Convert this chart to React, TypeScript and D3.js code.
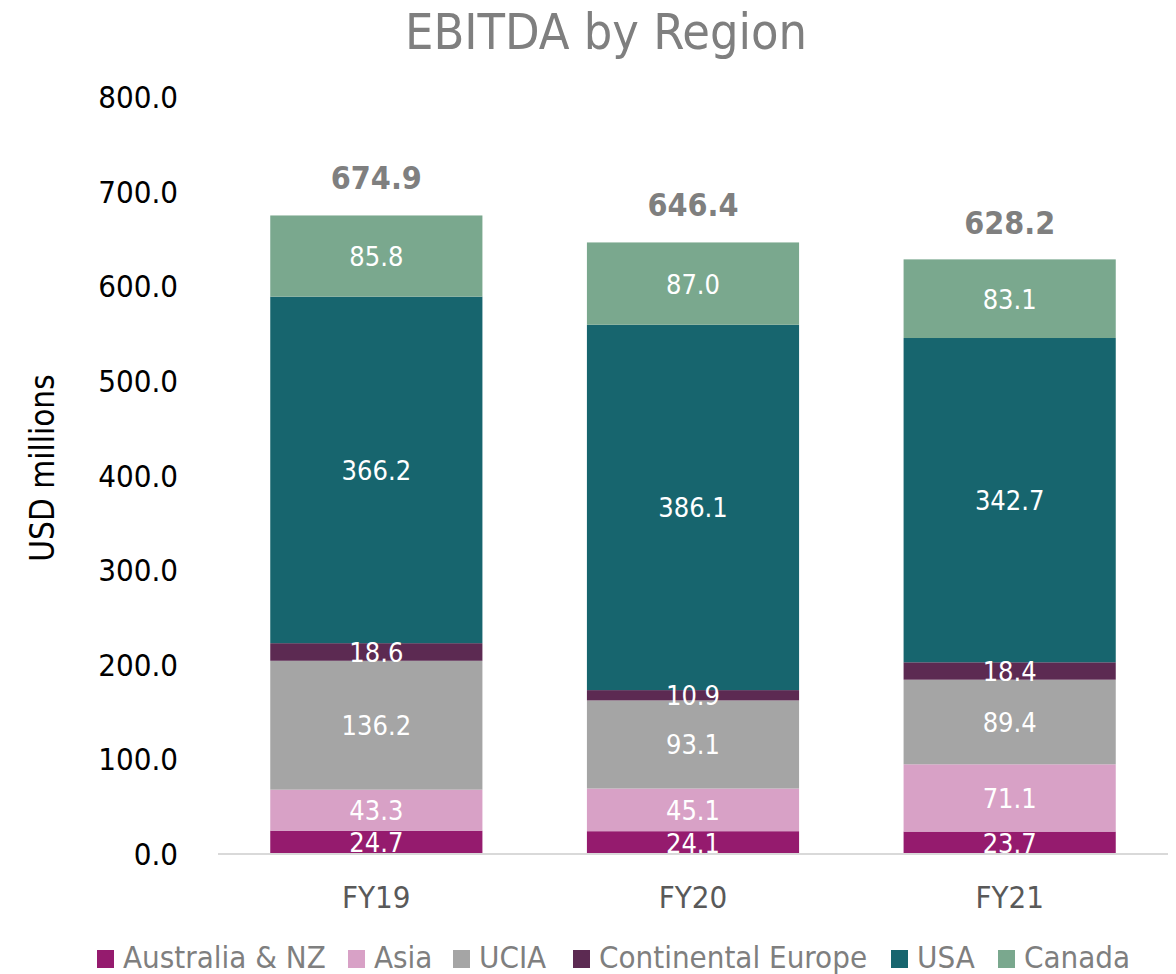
import React from "react";
import * as d3 from "d3";

const categories = ["FY19", "FY20", "FY21"];
const seriesNames = ["Australia & NZ", "Asia", "UCIA", "Continental Europe", "USA", "Canada"];
const australiaNZ = [24.7, 24.1, 23.7];
const asia = [43.3, 45.1, 71.1];
const ucia = [136.2, 93.1, 89.4];
const contEurope = [18.6, 10.9, 18.4];
const usa = [366.2, 386.1, 342.7];
const canada = [85.8, 87.0, 83.1];
const totals = [674.9, 646.4, 628.2];
const yTicks = [0, 100, 200, 300, 400, 500, 600, 700, 800];
const colors = ["#951B6E", "#D8A1C6", "#A5A5A5", "#5C2A52", "#17656E", "#7AA88E"];

const W = 1176;
const H = 974;
const FONT = "'DejaVu Sans Condensed', 'DejaVu Sans', sans-serif";

export default function App() {
  const series = [australiaNZ, asia, ucia, contEurope, usa, canada];
  const rows = categories.map((c, i) => {
    const r: any = { cat: c };
    seriesNames.forEach((s, j) => (r[s] = series[j][i]));
    return r;
  });
  const stack = d3.stack<any>().keys(seriesNames)(rows);
  const x = d3.scaleBand().domain(categories).range([218, 1168]).paddingInner(0.33).paddingOuter(0.165);
  const y = d3.scaleLinear().domain([0, 800]).range([854, 97]);

  const legendY = 968;
  const legendStarts = [97, 348, 453, 573, 891, 998];

  return (
    <svg width={W} height={H} style={{ position: "absolute", left: 0, top: 0, fontFamily: FONT }}>
      <rect width={W} height={H} fill="#fff" />
      <text x={606} y={49} textAnchor="middle" fontSize={50} fill="#7F7F7F">EBITDA by Region</text>
      <text transform={`translate(54,468) rotate(-90)`} textAnchor="middle" fontSize={33} fill="#000">USD millions</text>
      {yTicks.map((t) => (
        <text key={t} x={178} y={y(t) + 11} textAnchor="end" fontSize={31} fill="#000">
          {t.toFixed(1)}
        </text>
      ))}
      {stack.map((layer, j) => (
        <g key={layer.key}>
          {layer.map((d, i) => (
            <rect key={i} x={x(categories[i])} y={y(d[1])} width={x.bandwidth()} height={y(d[0]) - y(d[1])} fill={colors[j]} />
          ))}
        </g>
      ))}
      <line x1={218} x2={1168} y1={854} y2={854} stroke="#D9D9D9" strokeWidth={2} />
      {stack.map((layer, j) => (
        <g key={layer.key + "l"}>
          {layer.map((d, i) => (
            <text key={i} x={x(categories[i])! + x.bandwidth() / 2} y={(y(d[0]) + y(d[1])) / 2 + 10} textAnchor="middle" fontSize={27} fill="#fff">
              {series[j][i].toFixed(1)}
            </text>
          ))}
        </g>
      ))}
      {categories.map((c, i) => (
        <text key={c} x={x(c)! + x.bandwidth() / 2} y={y(totals[i]) - 26} textAnchor="middle" fontSize={32} fontWeight="bold" fill="#7F7F7F">
          {totals[i].toFixed(1)}
        </text>
      ))}
      {categories.map((c) => (
        <text key={c + "x"} x={x(c)! + x.bandwidth() / 2} y={908} textAnchor="middle" fontSize={31} fill="#595959">
          {c}
        </text>
      ))}
      {seriesNames.map((s, j) => (
        <g key={s}>
          <rect x={legendStarts[j]} y={legendY - 18} width={17} height={18} fill={colors[j]} />
          <text x={legendStarts[j] + 26} y={legendY} fontSize={31} fill="#7F7F7F">{s}</text>
        </g>
      ))}
    </svg>
  );
}
